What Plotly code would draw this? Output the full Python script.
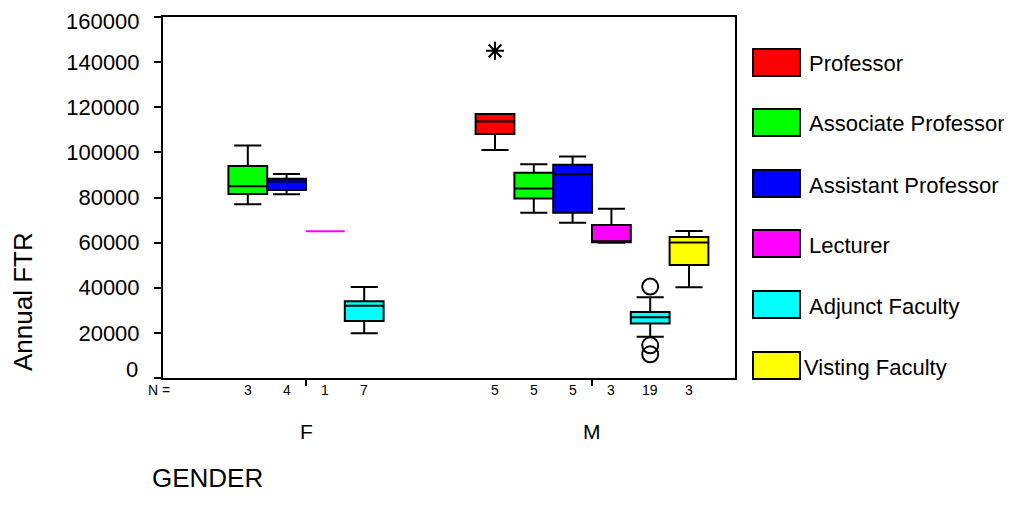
import plotly.graph_objects as go

# ---------------- data ----------------
ranks = ["Professor", "Associate Professor", "Assistant Professor",
         "Lecturer", "Adjunct Faculty", "Visting Faculty"]
colors = ["#FF0000", "#00FF00", "#0000FF", "#FF00FF", "#00FFFF", "#FFFF00"]
genders = ["F", "M"]

n_F = [0, 3, 4, 1, 7, 0]
n_M = [5, 5, 5, 3, 19, 3]

lo_F = [None, 77000, 81400, 65000, 19800, None]
q1_F = [None, 81500, 83300, 65000, 25300, None]
med_F = [None, 85000, 87100, 65000, 32000, None]
q3_F = [None, 94000, 88300, 65000, 34000, None]
hi_F = [None, 103000, 90400, 65000, 40300, None]

lo_M = [101000, 73200, 68800, 60000, 18300, 40200]
q1_M = [108100, 79600, 73200, 60200, 24200, 50100]
med_M = [113700, 84000, 90300, 60500, 26900, 60100]
q3_M = [117000, 91000, 94500, 67800, 29200, 62500]
hi_M = [117000, 94700, 98200, 75000, 35800, 65100]

# outliers (circles) and extremes (asterisks), gender M
outlier_rank = "Adjunct Faculty"
outlier_vals = [40500, 14500, 10500]
extreme_rank = "Professor"
extreme_vals = [145000]

y_ticks = [0, 20000, 40000, 60000, 80000, 100000, 120000, 140000, 160000]

# ---------------- layout constants (screen pixels) ----------------
SW, SH = 1012, 516          # browser window
OFF = 8                     # default body margin of the page
L, R, T, B = 163, 735, 17, 378
BOXGAP = 0.186
FONT = "Liberation Sans, Arial, sans-serif"


def px2x(px):
    return (px - L) / (R - L)


def py2y(py):
    return (B - py) / (B - T)


stats = {
    "F": (n_F, lo_F, q1_F, med_F, q3_F, hi_F),
    "M": (n_M, lo_M, q1_M, med_M, q3_M, hi_M),
}

fig = go.Figure()

for k, (rank, col) in enumerate(zip(ranks, colors)):
    groups = {"normal": {"x": [], "lo": [], "q1": [], "med": [], "q3": [], "hi": []},
              "single": {"x": [], "lo": [], "q1": [], "med": [], "q3": [], "hi": []}}
    for g in genders:
        n, lo, q1, med, q3, hi = stats[g]
        if n[k] == 0:
            continue
        key = "single" if n[k] == 1 else "normal"
        d = groups[key]
        d["x"].append(g)
        d["lo"].append(lo[k])
        d["q1"].append(q1[k])
        d["med"].append(med[k])
        d["q3"].append(q3[k])
        d["hi"].append(hi[k])
    for key, d in groups.items():
        if not d["x"]:
            continue
        fig.add_trace(go.Box(
            name=rank, x=d["x"], q1=d["q1"], median=d["med"], q3=d["q3"],
            lowerfence=d["lo"], upperfence=d["hi"],
            orientation="v", boxpoints=False,
            fillcolor=col,
            line=dict(color=col if key == "single" else "black", width=2),
            whiskerwidth=0.7,
            offsetgroup=rank, alignmentgroup="all",
            showlegend=False, hoverinfo="skip",
        ))

# outlier / extreme points, placed in the proper slot
for rank, vals, sym, size in [(outlier_rank, outlier_vals, "circle-open", 16),
                              (extreme_rank, extreme_vals, "asterisk-open", 15)]:
    fig.add_trace(go.Box(
        name=rank, x=["M"] * len(vals), y=vals,
        orientation="v", boxpoints="all", jitter=0, pointpos=0,
        fillcolor="rgba(0,0,0,0)", line=dict(width=0, color="rgba(0,0,0,0)"),
        marker=dict(symbol=sym, size=size, color="black",
                    line=dict(color="black", width=2)),
        offsetgroup=rank, alignmentgroup="all",
        showlegend=False, hoverinfo="skip",
    ))

annotations = []
shapes = []

# N = row
slot = (1 - BOXGAP) / len(ranks)
ny = py2y(390)
annotations.append(dict(text="N =", x=px2x(159), y=ny, xref="paper", yref="paper",
                        showarrow=False, font=dict(size=14, family=FONT, color="black"),
                        xanchor="center", yanchor="middle"))
for gi, g in enumerate(genders):
    n = stats[g][0]
    for k in range(len(ranks)):
        if n[k] == 0:
            continue
        xpos = gi + (k - (len(ranks) - 1) / 2) * slot
        annotations.append(dict(text=str(n[k]), x=xpos, y=ny, xref="x", yref="paper",
                                showarrow=False,
                                font=dict(size=14, family=FONT, color="black"),
                                xanchor="center", yanchor="middle"))
    annotations.append(dict(text=g, x=g, y=py2y(431), xref="x", yref="paper",
                            showarrow=False, font=dict(size=21, family=FONT, color="black"),
                            xanchor="center", yanchor="middle"))

# the end tick labels are placed by hand: "0" sits a little above its tick,
# and the top label is kept inside the page
annotations.append(dict(text=str(y_ticks[0]), x=px2x(140), y=py2y(369), xref="paper", yref="paper",
                        showarrow=False, font=dict(size=22, family=FONT, color="black"),
                        xanchor="right", yanchor="middle"))
annotations.append(dict(text=str(y_ticks[-1]), x=px2x(140), y=py2y(OFF), xref="paper", yref="paper",
                        showarrow=False, borderpad=0,
                        font=dict(size=22, family=FONT, color="black"),
                        xanchor="right", yanchor="top"))

# axis titles
annotations.append(dict(text="GENDER", x=px2x(150), y=py2y(478), xref="paper", yref="paper",
                        showarrow=False, font=dict(size=26, family=FONT, color="black"),
                        xanchor="left", yanchor="middle"))
annotations.append(dict(text="Annual FTR", x=px2x(23), y=py2y(302), xref="paper", yref="paper",
                        showarrow=False, textangle=-90,
                        font=dict(size=26, family=FONT, color="black"),
                        xanchor="center", yanchor="middle"))

# legend
leg_top = [49, 109, 170, 230, 291, 352]
for k, (rank, col) in enumerate(zip(ranks, colors)):
    y0 = leg_top[k]
    shapes.append(dict(type="rect", xref="paper", yref="paper",
                       x0=px2x(753), x1=px2x(800), y0=py2y(y0 + 27), y1=py2y(y0),
                       fillcolor=col, line=dict(color="black", width=2)))
    tx = 802 if k == len(ranks) - 1 else 807
    annotations.append(dict(text=rank, x=px2x(tx), y=py2y(y0 + 15), xref="paper", yref="paper",
                            showarrow=False, font=dict(size=22, family=FONT, color="black"),
                            xanchor="left", yanchor="middle"))

FIG_H = SH - 2 * OFF
fig.update_layout(
    width=SW - OFF, height=FIG_H,
    margin=dict(l=L - OFF, r=SW - R, t=T - OFF, b=FIG_H + OFF - B, pad=0, autoexpand=False),
    paper_bgcolor="white", plot_bgcolor="white",
    boxmode="group", boxgap=BOXGAP, boxgroupgap=0,
    showlegend=False,
    annotations=annotations, shapes=shapes,
    font=dict(family=FONT, color="black"),
)
fig.update_xaxes(
    type="category", categoryorder="array", categoryarray=genders,
    range=[-0.5, 1.5], showgrid=False, zeroline=False, automargin=False,
    showline=True, linecolor="black", linewidth=2, mirror=True,
    ticks="outside", ticklen=6, tickwidth=2, tickcolor="black",
    showticklabels=False,
)
fig.update_yaxes(
    range=[0, 160000], tickvals=y_ticks,
    ticktext=[""] + [str(v) for v in y_ticks[1:-1]] + [""],
    showgrid=False, zeroline=False, automargin=False,
    showline=True, linecolor="black", linewidth=2, mirror=True,
    ticks="outside", ticklen=7, tickwidth=1.5, tickcolor="black",
    ticklabelstandoff=10,
    tickfont=dict(size=22, family=FONT, color="black"),
)

fig.write_html("out.html")
